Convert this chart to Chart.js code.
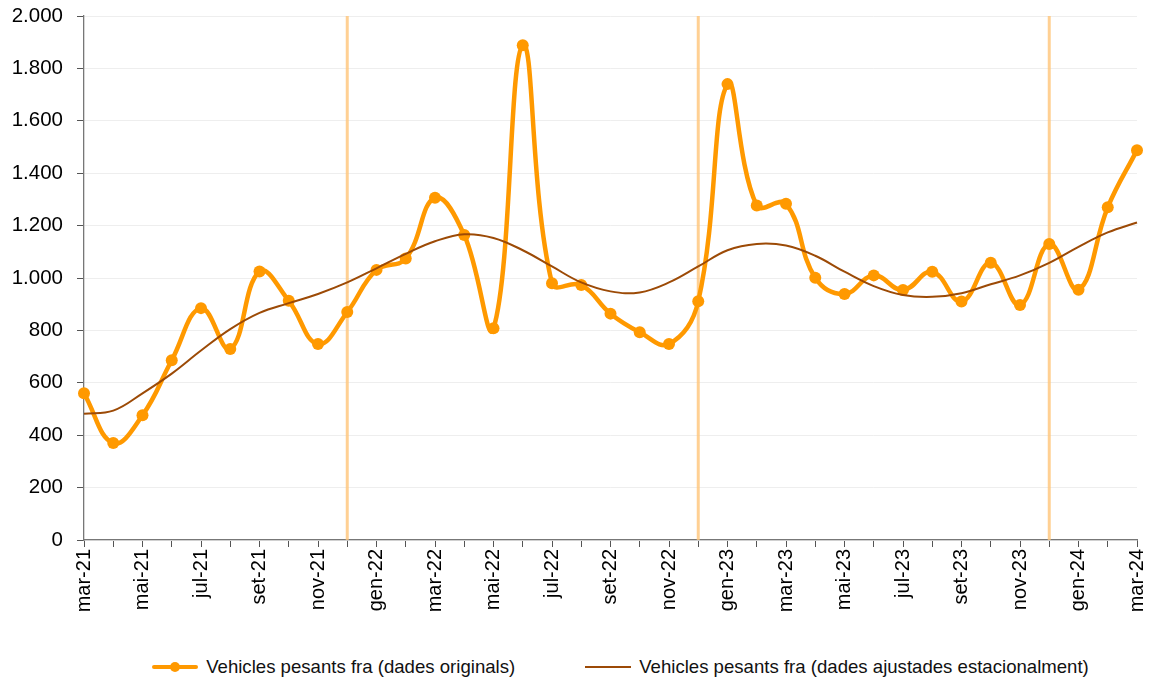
<!DOCTYPE html>
<html lang="ca">
<head>
  <meta charset="UTF-8" />
  <title>Vehicles pesants fra</title>
  <script src="https://cdn.jsdelivr.net/npm/chart.js"></script>
  <style>
    body {
      margin: 0;
      background: #fff;
      font-family: "Liberation Sans", Arial, sans-serif;
    }

    .wrap {
      position: relative;
      width: 1157px;
      height: 682px;
    }

    .canvas-box {
      position: absolute;
      left: 0;
      top: 0;
      width: 1157px;
      height: 640px;
    }

    .legend {
      position: absolute;
      left: 0;
      top: 654px;
      width: 1157px;
      height: 26px;
      display: flex;
      justify-content: center;
      align-items: center;
      gap: 70px;
      padding-left: 84px;
      box-sizing: border-box;
      font-size: 18.6px;
      color: #111;
    }

    .item { display: flex; align-items: center; gap: 8px; }
    .mark { position: relative; width: 46px; height: 4px; }
    .mark.orig { background: #ff9900; border-radius: 2px; }
    .mark.orig::after {
      content: "";
      position: absolute;
      left: 18px;
      top: -3px;
      width: 10px;
      height: 10px;
      border-radius: 50%;
      background: #ff9900;
    }
    .mark.aj { height: 2px; background: #9c4a06; }
  </style>
</head>
<body>
  <div class="wrap">
    <div class="canvas-box"><canvas id="grafic"></canvas></div>

    <!-- llegenda -->
    <div class="legend">
      <div class="item"><span class="mark orig"></span><span>Vehicles pesants fra (dades originals)</span></div>
      <div class="item"><span class="mark aj"></span><span>Vehicles pesants fra (dades ajustades estacionalment)</span></div>
    </div>
  </div>

  <script>
    const mesos = [
      "mar-21", "abr-21", "mai-21", "jun-21", "jul-21", "ago-21", "set-21", "oct-21", "nov-21", "des-21",
      "gen-22", "feb-22", "mar-22", "abr-22", "mai-22", "jun-22", "jul-22", "ago-22", "set-22", "oct-22", "nov-22", "des-22",
      "gen-23", "feb-23", "mar-23", "abr-23", "mai-23", "jun-23", "jul-23", "ago-23", "set-23", "oct-23", "nov-23", "des-23",
      "gen-24", "feb-24", "mar-24"
    ];

    const dadesOriginals = [
      560, 370, 476, 686, 885, 729, 1025, 913, 748, 870,
      1031, 1074, 1306, 1164, 808, 1888, 980, 973, 864, 793, 748, 911,
      1740, 1277, 1283, 1001, 939, 1010, 954, 1024, 910, 1058, 897, 1130,
      955, 1270, 1488
    ];

    const dadesAjustades = [
      482, 494, 560, 635, 723, 805, 867, 904, 939, 983,
      1037, 1092, 1140, 1167, 1153, 1106, 1044, 983, 949, 945, 983, 1044,
      1106, 1130, 1124, 1085, 1024, 969, 935, 928, 942, 976, 1010, 1058,
      1119, 1174, 1212
    ];

    // mesos on es marca el canvi d'any
    const marquesAny = ["des-21", "des-22", "des-23"];

    const yMin = 0;
    const yMax = 2000;
    const yPas = 200;

    // línies verticals: dos punts per marca, separades per un buit
    const liniesAny = [];
    marquesAny.forEach(m => {
      liniesAny.push({ x: m, y: yMin });
      liniesAny.push({ x: m, y: yMax });
      liniesAny.push({ x: m, y: null });
    });

    const formatMilers = v => String(v).replace(/\B(?=(\d{3})+(?!\d))/g, ".");

    new Chart(document.getElementById("grafic"), {
      type: "line",
      data: {
        labels: mesos,
        datasets: [
          {
            label: "Vehicles pesants fra (dades originals)",
            data: dadesOriginals,
            borderColor: "#ff9900",
            backgroundColor: "#ff9900",
            borderWidth: 4.5,
            pointRadius: 6,
            pointBorderWidth: 0,
            tension: 0.42,
            order: 2
          },
          {
            label: "Vehicles pesants fra (dades ajustades estacionalment)",
            data: dadesAjustades,
            borderColor: "#9c4a06",
            borderWidth: 2,
            pointRadius: 0,
            tension: 0.4,
            order: 1
          },
          {
            label: "canvi d'any",
            data: liniesAny,
            borderColor: "rgba(255, 196, 120, 0.8)",
            borderWidth: 3,
            pointRadius: 0,
            tension: 0,
            spanGaps: false,
            clip: false,
            order: 3
          }
        ]
      },
      options: {
        responsive: true,
        maintainAspectRatio: false,
        animation: false,
        layout: { padding: { top: 16, right: 20, left: 0, bottom: 0 } },
        plugins: {
          legend: { display: false },
          tooltip: { enabled: false }
        },
        scales: {
          x: {
            type: "category",
            offset: false,
            afterFit: s => {
              s.height = 100;
              s.paddingLeft = 0;
              s.paddingRight = 0;
            },
            border: { color: "#777", width: 1.3 },
            grid: {
              drawOnChartArea: false,
              drawTicks: true,
              tickLength: 7,
              tickColor: "#555"
            },
            ticks: {
              autoSkip: false,
              maxRotation: 90,
              minRotation: 90,
              padding: 2,
              color: "#000",
              font: { family: "'Liberation Sans', Arial, sans-serif", size: 20 },
              callback: (v, i) => (i % 2 === 0 ? mesos[i] : "")
            }
          },
          y: {
            min: yMin,
            max: yMax,
            afterFit: s => {
              s.width = 84;
              s.paddingTop = 0;
              s.paddingBottom = 0;
            },
            border: { color: "#777", width: 1.3 },
            grid: {
              color: "#eeeeee",
              tickColor: "#555",
              tickLength: 7
            },
            ticks: {
              stepSize: yPas,
              padding: 14,
              color: "#000",
              font: { family: "'Liberation Sans', Arial, sans-serif", size: 20.5 },
              callback: v => formatMilers(v)
            }
          }
        }
      }
    });
  </script>
</body>
</html>
